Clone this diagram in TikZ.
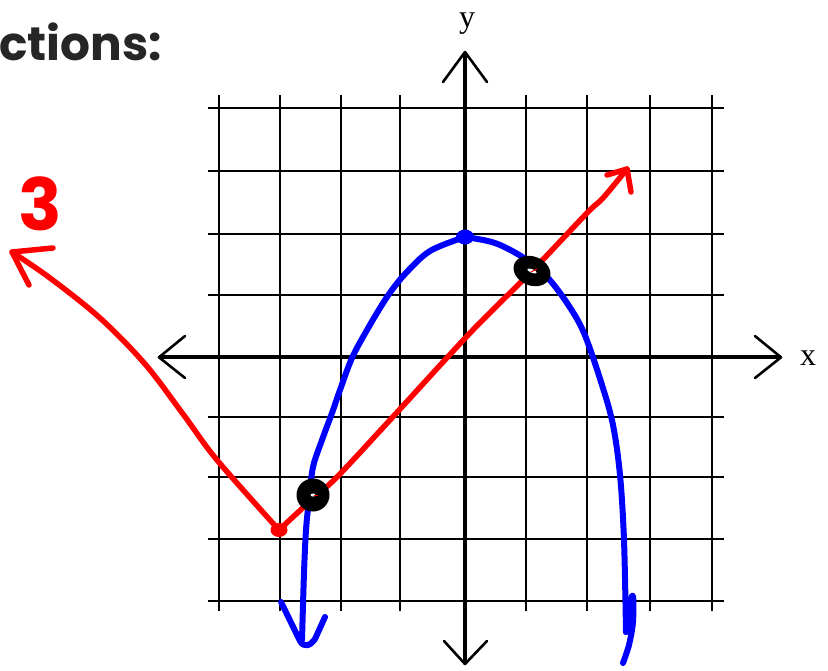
\documentclass[tikz,border=0pt]{standalone}
\usepackage{fontspec}
\newfontfamily\titlefont{Poppins}
\newfontfamily\labelfont{Liberation Serif}
\definecolor{titlegray}{RGB}{38,38,38}
\begin{document}
\begin{tikzpicture}[x=1pt,y=-1pt,
  gridline/.style={line width=2pt, black},
  axisline/.style={line width=3.8pt, black},
  axishead/.style={line width=2.6pt, black, line cap=round, line join=round},
  redpen/.style={line width=5.5pt, red, line cap=round, line join=round},
  bluepen/.style={line width=6pt, blue, line cap=round, line join=round},
  axislabel/.style={font=\labelfont\fontsize{32}{32}\selectfont, inner sep=0pt}]
\useasboundingbox (0,0) rectangle (828,670);

% title fragment
\node[anchor=base west, inner sep=0pt, text=titlegray,
      font=\titlefont\bfseries\fontsize{47}{47}\selectfont] (title) at (-1,60) {ctions:};
% red number
\node[inner sep=0pt, text=red,
      font=\titlefont\bfseries\fontsize{72}{72}\selectfont] (three) at (40,204) {3};

% grid
\foreach \x in {218.5,279.5,340.5,400,525.5,586.5,649.5,712}
  \draw[gridline] (\x,95) -- (\x,611);
\foreach \y in {108.3,171.3,234.3,295.3,417,476.7,539,600.7}
  \draw[gridline] (208,\y) -- (724,\y);

% axes
\coordinate (xl) at (159,357.3);
\coordinate (xr) at (781,357.3);
\coordinate (yt) at (465,52);
\coordinate (yb) at (465,664);
\draw[axisline] (xl) -- (xr);
\draw[axisline] (yt) -- (yb);
\draw[axishead] (185,336) -- (xl) -- (185,378);
\draw[axishead] (755,336) -- (xr) -- (755,378);
\draw[axishead] (443,82) -- (yt) -- (487,82);
\draw[axishead] (444,641) -- (yb) -- (487,641);
\node[axislabel, anchor=base] (xlab) at (808,365) {x};
\node[axislabel, anchor=base] (ylab) at (467,27) {y};

% blue parabola
\coordinate (pv) at (465,237);
\draw[bluepen] plot[smooth, tension=0.55] coordinates {
  (302,640) (304,573) (306,530) (309,500) (313,467) (322,440) (332,413)
  (340,390) (352,358) (367,330) (387,297) (405,274) (430,251) (pv)};
\draw[bluepen] plot[smooth, tension=0.55] coordinates {
  (pv) (495,243) (524,258) (547,277) (567,303) (584,333)
  (602,385) (613,425) (620,475) (624,540) (626,632)};
\draw[bluepen] plot[smooth, tension=0.5] coordinates {
  (626,632) (629,605) (633,596) (633,622) (629,645) (623,663)};
% blue hand-drawn arrow head
\draw[bluepen] (281,602) -- (300,641) .. controls (304,648) and (310,646) .. (315,639) -- (325,617);
\fill[blue] (pv) ellipse [x radius=9, y radius=7.5];

% red curve
\coordinate (rv) at (279,530);
\coordinate (rl) at (12,252);
\coordinate (rr) at (627,169);
\draw[redpen] plot[smooth, tension=0.55] coordinates {
  (rv) (217,460) (183,414) (145,364) (100,318) (50,278) (rl)};
\draw[redpen] (53,248) -- (rl) -- (29,285);
\draw[redpen] plot[smooth, tension=0.5] coordinates {
  (rv) (307,504) (337,477) (390,420) (470,333) (532,271) (587,213) (603,198) (rr)};
\draw[redpen] (607,175) -- (rr) -- (631,192);
\fill[red] (rv) ellipse [x radius=8.5, y radius=7];

% intersection marks
\coordinate (p1) at (313,495);
\coordinate (p2) at (532,271);
\fill[black] (p1) circle (16.5);
\fill[white] (p1) ellipse [x radius=2.5, y radius=1.5];
\draw[red, line width=0.8pt] (314,495) -- (318,495);
\fill[black, rotate around={-22:(p2)}] (p2) ellipse [x radius=19, y radius=14.5];
\fill[white, rotate around={-22:(p2)}] (p2) ellipse [x radius=5, y radius=1.8];
\draw[red, line width=1pt] (531,272) -- (537,269);
\end{tikzpicture}
\end{document}
